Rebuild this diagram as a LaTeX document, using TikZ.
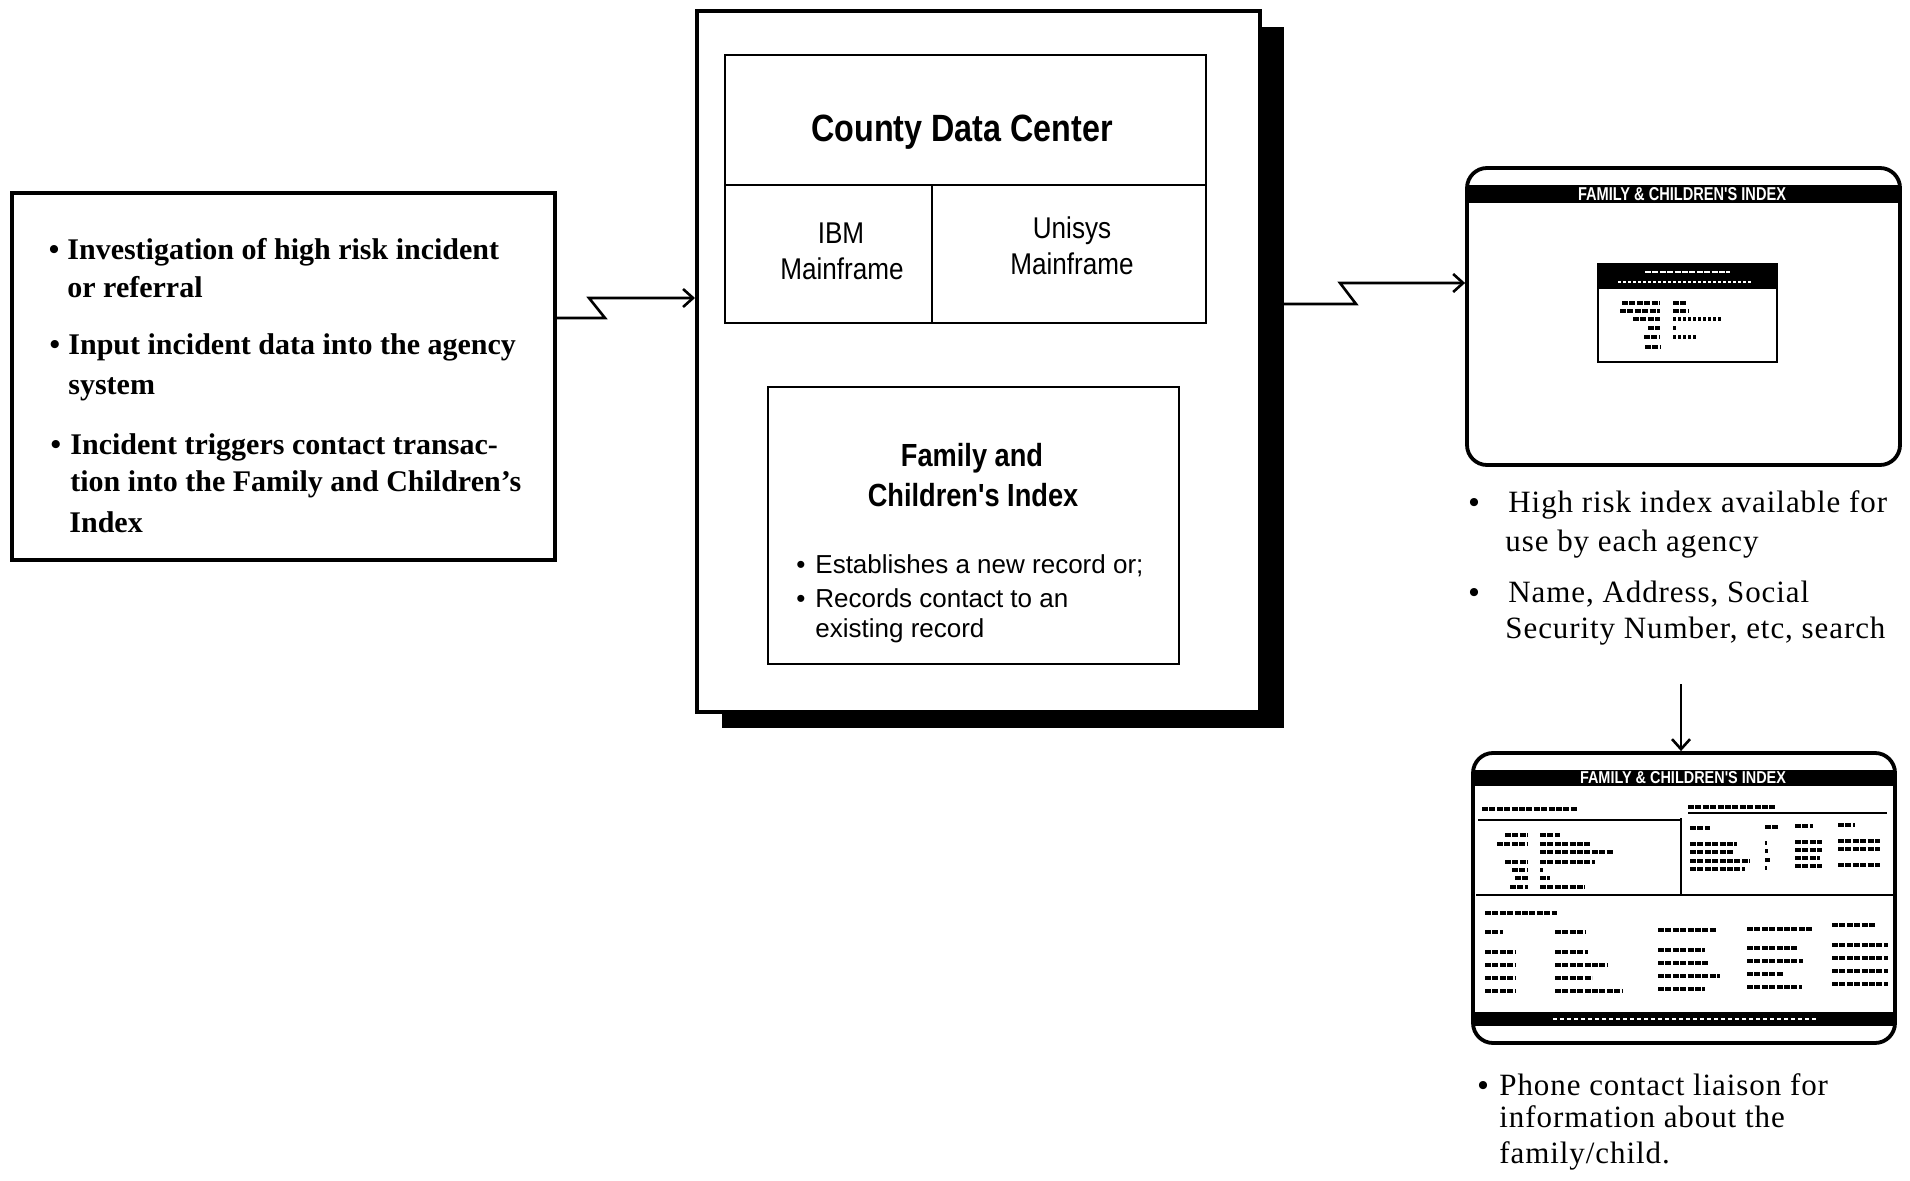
\documentclass[tikz,border=0pt]{standalone}
\usepackage{fontspec}
\setmainfont{Liberation Serif}
\setsansfont{Liberation Sans}
\newfontfamily\condb[FakeStretch=0.85]{Liberation Sans}
\newfontfamily\condm[FakeStretch=0.87]{Liberation Sans}
\newfontfamily\spaced[LetterSpace=3]{Liberation Serif}
\usetikzlibrary{arrows.meta,fit}
\newcommand\scrb[4][]{\draw[scrib,#1] (#2,#4) -- (#3,#4);}
\tikzset{
  box/.style={draw, line width=1.6pt, inner sep=0pt},
  ibox/.style={draw, line width=1.3pt, inner sep=0pt},
  screen/.style={draw, line width=1.9pt, rounded corners=10pt, inner sep=0pt},
  conn/.style={line width=1.3pt, -{Straight Barb[length=5pt,width=9pt]}},
  scrib/.style={line width=1.6pt, dash pattern=on 3pt off 0.7pt},
  wscrib/.style={scrib, white},
  lt/.style={font=\fontsize{15}{18}\selectfont\bfseries, anchor=base west, inner sep=0pt},
  lb/.style={font=\fontsize{15}{18}\selectfont\bfseries, anchor=base, inner sep=0pt},
  rt/.style={font=\spaced\fontsize{15.5}{19}\selectfont, anchor=base west, inner sep=0pt},
  rb/.style={font=\fontsize{15}{19}\selectfont\bfseries, anchor=base, inner sep=0pt},
  head/.style={font=\condb\bfseries\fontsize{19}{22}\selectfont, anchor=base, inner sep=0pt},
  subhead/.style={font=\condb\bfseries\fontsize{16}{19}\selectfont, anchor=base, inner sep=0pt},
  mf/.style={font=\condm\fontsize{15}{18}\selectfont, anchor=base, inner sep=0pt},
  st/.style={font=\sffamily\fontsize{13}{16}\selectfont, anchor=base west, inner sep=0pt},
  sb/.style={font=\sffamily\fontsize{13}{16}\selectfont, anchor=base, inner sep=0pt},
  ttl/.style={text=white, font=\condb\bfseries, inner sep=0pt}
}
\begin{document}
\begin{tikzpicture}[x=0.5pt,y=-0.5pt]
\useasboundingbox (0,0) rectangle (1910,1181);

% ---------- left box ----------
\node[box, line width=1.8pt, fit={(12,193) (555,560)}] (left) {};
\node[lb] (b1) at (54,260) {\textbullet};
\node[lt] (l1) at (67,260) {Investigation of high risk incident};
\node[lt] (l2) at (67,298) {or referral};
\node[lb] (b2) at (55,355) {\textbullet};
\node[lt] (l3) at (68,355) {Input incident data into the agency};
\node[lt] (l4) at (68,395) {system};
\node[lb] (b3) at (56,455) {\textbullet};
\node[lt] (l5) at (70,455) {Incident triggers contact transac-};
\node[lt] (l6) at (70,492) {tion into the Family and Children's};
\node[lt] (l7) at (69,532) {Index};

% ---------- center ----------
\fill (722,27) rectangle (1284,728);
\node[box, fill=white, line width=2pt, fit={(697,11) (1260,712)}] (outer) {};
\node[ibox, fit={(725,55) (1206,323)}] (cdc) {};
\draw[line width=1.3pt] (725,185) -- (1206,185) (932,185) -- (932,323);
\node[head] (cdct) at (962,142) {County Data Center};
\node[mf] (ibm1) at (841,244) {IBM};
\node[mf] (ibm2) at (842,280) {Mainframe};
\node[mf] (uni1) at (1072,239) {Unisys};
\node[mf] (uni2) at (1072,275) {Mainframe};

\node[ibox, fit={(768,387) (1179,664)}] (fci) {};
\node[subhead] (fci1) at (972,467) {Family and};
\node[subhead] (fci2) at (973,507) {Children's Index};
\node[sb] (fb1) at (801,574) {\textbullet};
\node[st] (f1) at (815,574) {Establishes a new record or;};
\node[sb] (fb2) at (801,607) {\textbullet};
\node[st] (f2) at (815,607) {Records contact to an};
\node[st] (f3) at (815,637) {existing record};

% ---------- top screen ----------
\fill (1468,185) rectangle (1899,203);
\node[screen, fit={(1467,168) (1900,465)}] (scr1) {};
\node[ttl] (scr1t) at (1682,194) {\resizebox{104pt}{6.5pt}{FAMILY \& CHILDREN'S INDEX}};
\fill (1598,264) rectangle (1777,289);
\node[draw, line width=1.3pt, inner sep=0pt, fit={(1598,264) (1777,362)}] (dlg) {};
\scrb[wscrib, line width=1.3pt]{1645}{1730}{272}
\scrb[wscrib, line width=1.3pt, dash pattern=on 1.5pt off 1pt]{1618}{1752}{282}
\scrb{1622}{1660}{303} \scrb{1673}{1687}{303}
\scrb{1620}{1660}{311} \scrb{1673}{1688}{311}
\scrb{1633}{1660}{319} \scrb[dash pattern=on 1.5pt off 1pt]{1673}{1723}{319}
\scrb{1648}{1660}{328} \scrb{1673}{1676}{328}
\scrb{1644}{1660}{337} \scrb[dash pattern=on 1.5pt off 1pt]{1673}{1698}{337}
\scrb{1645}{1660}{347}

% ---------- bottom screen ----------
\fill (1474,770) rectangle (1894,786);
\fill (1474,1012) rectangle (1894,1026);
\node[screen, fit={(1473,753) (1895,1043)}] (scr2) {};
\node[ttl] (scr2t) at (1683,778) {\resizebox{103pt}{6pt}{FAMILY \& CHILDREN'S INDEX}};
\scrb[wscrib, line width=1pt, dash pattern=on 2pt off 1.5pt]{1553}{1818}{1019}
\draw[line width=1.1pt] (1478,820) -- (1681,820) (1681,818) -- (1681,895)
  (1688,813) -- (1887,813) (1476,895) -- (1893,895);
% left section
\scrb{1482}{1577}{809}
\scrb{1505}{1528}{835} \scrb{1540}{1560}{835}
\scrb{1497}{1528}{844} \scrb{1540}{1590}{844}
\scrb{1540}{1613}{852}
\scrb{1505}{1528}{862} \scrb{1540}{1595}{862}
\scrb{1512}{1528}{870} \scrb{1540}{1543}{870}
\scrb{1515}{1528}{878} \scrb{1540}{1550}{878}
\scrb{1510}{1528}{887} \scrb{1540}{1585}{887}
% right section
\scrb{1688}{1775}{807}
\scrb{1690}{1710}{828} \scrb{1765}{1778}{827} \scrb{1795}{1813}{826} \scrb{1838}{1855}{825}
\scrb{1690}{1737}{844} \scrb{1765}{1767}{843} \scrb{1795}{1822}{842} \scrb{1838}{1880}{841}
\scrb{1690}{1733}{852} \scrb{1765}{1768}{851} \scrb{1795}{1822}{850} \scrb{1838}{1880}{849}
\scrb{1690}{1750}{861} \scrb{1765}{1770}{860} \scrb{1795}{1820}{858}
\scrb{1690}{1745}{869} \scrb{1765}{1767}{868} \scrb{1795}{1822}{866} \scrb{1838}{1880}{865}
% case section
\scrb{1485}{1557}{913}
\scrb{1485}{1503}{932} \scrb{1555}{1585}{932} \scrb{1658}{1717}{930} \scrb{1747}{1812}{929} \scrb{1832}{1875}{925}
\scrb{1485}{1515}{952} \scrb{1555}{1588}{952} \scrb{1658}{1705}{950} \scrb{1747}{1797}{948} \scrb{1832}{1888}{945}
\scrb{1485}{1515}{965} \scrb{1555}{1608}{965} \scrb{1658}{1708}{963} \scrb{1747}{1803}{961} \scrb{1832}{1888}{958}
\scrb{1485}{1515}{978} \scrb{1555}{1592}{978} \scrb{1658}{1720}{976} \scrb{1747}{1783}{974} \scrb{1832}{1888}{971}
\scrb{1485}{1515}{991} \scrb{1555}{1623}{991} \scrb{1658}{1705}{989} \scrb{1747}{1802}{987} \scrb{1832}{1888}{984}

% ---------- right texts ----------
\node[rb] (rb1) at (1474,513) {\textbullet};
\node[rt] (r1) at (1508,513) {High risk index available for};
\node[rt] (r2) at (1505,552) {use by each agency};
\node[rb] (rb2) at (1474,602) {\textbullet};
\node[rt] (r3) at (1508,602) {Name, Address, Social};
\node[rt] (r4) at (1505,638) {Security Number, etc, search};
\node[rb] (rb3) at (1483,1095) {\textbullet};
\node[rt] (r5) at (1499,1095) {Phone contact liaison for};
\node[rt] (r6) at (1499,1127) {information about the};
\node[rt] (r7) at (1499,1163) {family/child.};

% ---------- connectors ----------
\coordinate (lz1) at (605,318);
\coordinate (lz2) at (589,298);
\draw[conn] (left.east |- lz1) -- (lz1) -- (lz2) -- (outer.west |- lz2);
\coordinate (rz1) at (1356,304);
\coordinate (rz2) at (1340,283);
\draw[conn] (outer.east |- rz1) -- (rz1) -- (rz2) -- (scr1.west |- rz2);
\coordinate (dn) at (1681,684);
\draw[conn] (dn) -- (dn |- scr2.north);
\end{tikzpicture}
\end{document}
